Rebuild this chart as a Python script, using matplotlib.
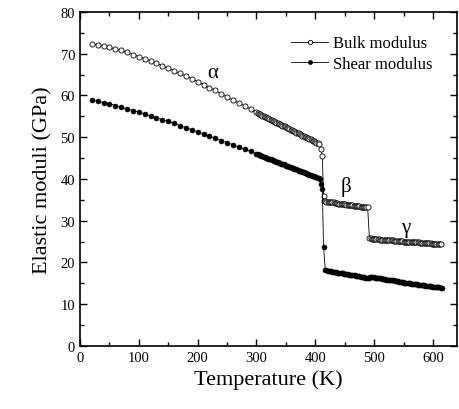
import matplotlib
matplotlib.use("Agg")
import matplotlib.pyplot as plt
from matplotlib.ticker import MultipleLocator

plt.rcParams['font.family'] = ['Liberation Serif', 'DejaVu Serif']

# ---- Bulk modulus (GPa) ----
# alpha phase, coarse scan
T_bulk_a1 = [20, 30, 40, 50, 60, 70, 80, 90, 100, 110, 120, 130, 140, 150, 160,
             170, 180, 190, 200, 210, 220, 230, 240, 250, 260, 270, 280, 290]
bulk_a1 = [72.3, 72.2, 71.9, 71.6, 71.1, 70.8, 70.3, 69.8, 69.3, 68.8, 68.3, 67.7,
           67.1, 66.5, 65.9, 65.3, 64.7, 64.0, 63.3, 62.6, 61.9, 61.2, 60.4, 59.6,
           58.9, 58.2, 57.5, 56.8]
# alpha phase, fine scan
T_bulk_a2 = list(range(300, 408, 2))
bulk_a2 = [56.0, 55.8, 55.6, 55.5, 55.4, 55.2, 55.1, 54.9, 54.8, 54.6, 54.5, 54.3,
           54.2, 54.1, 54.0, 53.8, 53.7, 53.5, 53.4, 53.2, 53.1, 52.9, 52.8, 52.7,
           52.6, 52.4, 52.3, 52.1, 52.0, 51.8, 51.7, 51.5, 51.4, 51.2, 51.1, 51.0,
           50.9, 50.7, 50.6, 50.4, 50.3, 50.1, 50.0, 49.8, 49.7, 49.6, 49.5, 49.3,
           49.2, 49.0, 48.9, 48.7, 48.6, 48.4]
# alpha -> beta transition
T_bulk_t = [409, 412, 414]
bulk_t = [47.2, 45.6, 36.0]
# beta phase
T_bulk_b = list(range(415, 491, 2))
bulk_b = [34.8, 34.7, 34.6, 34.6, 34.5, 34.5, 34.4, 34.4, 34.4, 34.3, 34.2, 34.2,
          34.1, 34.1, 34.0, 34.0, 34.0, 33.9, 33.9, 33.8, 33.8, 33.8, 33.7, 33.7,
          33.7, 33.6, 33.6, 33.6, 33.5, 33.5, 33.5, 33.4, 33.4, 33.4, 33.4, 33.3,
          33.3, 33.3]
# gamma phase
T_bulk_g = list(range(492, 616, 2))
bulk_g = [25.8, 25.8, 25.7, 25.7, 25.7, 25.6, 25.6, 25.6, 25.6, 25.5, 25.5, 25.5,
          25.5, 25.4, 25.4, 25.4, 25.4, 25.3, 25.3, 25.3, 25.3, 25.2, 25.2, 25.2,
          25.2, 25.1, 25.1, 25.1, 25.1, 25.0, 25.0, 25.0, 25.0, 24.9, 24.9, 24.9,
          24.9, 24.8, 24.8, 24.8, 24.8, 24.8, 24.8, 24.7, 24.7, 24.7, 24.7, 24.6,
          24.6, 24.6, 24.6, 24.6, 24.6, 24.5, 24.5, 24.5, 24.5, 24.5, 24.5, 24.4,
          24.4, 24.4]

# ---- Shear modulus (GPa) ----
T_shear_a1 = T_bulk_a1
shear_a1 = [58.9, 58.6, 58.3, 58.0, 57.6, 57.2, 56.8, 56.4, 56.0, 55.6, 55.1, 54.7,
            54.2, 53.8, 53.3, 52.8, 52.3, 51.8, 51.3, 50.8, 50.3, 49.7, 49.2, 48.7,
            48.2, 47.6, 47.1, 46.6]
T_shear_a2 = list(range(300, 408, 2))
shear_a2 = [46.0, 45.9, 45.8, 45.7, 45.6, 45.4, 45.3, 45.2, 45.1, 45.0, 44.9, 44.8,
            44.7, 44.6, 44.5, 44.3, 44.2, 44.1, 44.0, 43.9, 43.8, 43.7, 43.6, 43.5,
            43.4, 43.2, 43.1, 43.0, 42.9, 42.8, 42.7, 42.6, 42.5, 42.4, 42.3, 42.1,
            42.0, 41.9, 41.8, 41.7, 41.6, 41.5, 41.4, 41.3, 41.2, 41.0, 40.9, 40.8,
            40.7, 40.6, 40.5, 40.4, 40.3, 40.2]
T_shear_t = [408, 410, 412, 414]
shear_t = [40.0, 38.8, 37.6, 23.8]
T_shear_b = list(range(417, 491, 2))
shear_b = [18.2, 18.1, 18.0, 18.0, 17.9, 17.9, 17.8, 17.8, 17.7, 17.7, 17.6, 17.6,
           17.5, 17.5, 17.4, 17.4, 17.3, 17.3, 17.2, 17.2, 17.1, 17.1, 17.0, 17.0,
           16.9, 16.9, 16.8, 16.8, 16.7, 16.7, 16.6, 16.6, 16.5, 16.5, 16.4, 16.4,
           16.3]
T_shear_g = list(range(491, 617, 2))
shear_g = [16.4, 16.6, 16.6, 16.5, 16.5, 16.4, 16.4, 16.3, 16.3, 16.2, 16.2, 16.1,
           16.1, 16.0, 16.0, 15.9, 15.9, 15.8, 15.8, 15.8, 15.7, 15.7, 15.6, 15.6,
           15.5, 15.5, 15.4, 15.4, 15.3, 15.3, 15.2, 15.2, 15.1, 15.1, 15.0, 15.0,
           14.9, 14.9, 14.8, 14.8, 14.8, 14.8, 14.7, 14.7, 14.6, 14.6, 14.5, 14.5,
           14.4, 14.4, 14.4, 14.4, 14.3, 14.3, 14.2, 14.2, 14.2, 14.2, 14.1, 14.1,
           14.1, 14.0, 14.0]

T_bulk = T_bulk_a1 + T_bulk_a2 + T_bulk_t + T_bulk_b + T_bulk_g
bulk = bulk_a1 + bulk_a2 + bulk_t + bulk_b + bulk_g
T_shear = T_shear_a1 + T_shear_a2 + T_shear_t + T_shear_b + T_shear_g
shear = shear_a1 + shear_a2 + shear_t + shear_b + shear_g

# Phase labels
phase_names = ['\u03b1', '\u03b2', '\u03b3']
phase_T = [226, 452, 554]
phase_val = [65.6, 38.3, 28.5]

fig = plt.figure(figsize=(4.59, 4.10), dpi=100)
ax = fig.add_axes([0.1743, 0.1537, 0.8214, 0.8146])

ax.plot(T_bulk, bulk, '-o', color='black', lw=0.6, ms=3.7,
        mfc='white', mec='black', mew=0.6, label='Bulk modulus')
ax.plot(T_shear, shear, '-o', color='black', lw=0.6, ms=3.6,
        mfc='black', mec='black', mew=0.4, label='Shear modulus')

for name, t, v in zip(phase_names, phase_T, phase_val):
    ax.text(t, v, name, fontsize=15, ha='center', va='center')

ax.set_xlim(0, 641)
ax.set_ylim(0, 80)
ax.xaxis.set_major_locator(MultipleLocator(100))
ax.xaxis.set_minor_locator(MultipleLocator(50))
ax.yaxis.set_major_locator(MultipleLocator(10))
ax.yaxis.set_minor_locator(MultipleLocator(5))
ax.tick_params(which='both', direction='in', top=True, right=True,
               labelsize=10.5, width=1.0)
ax.tick_params(which='major', length=5)
ax.tick_params(which='minor', length=3)
for s in ax.spines.values():
    s.set_linewidth(1.2)

ax.set_xlabel('Temperature (K)', fontsize=16, labelpad=4)
ax.set_ylabel('Elastic moduli (GPa)', fontsize=16, labelpad=6)

ax.legend(loc='upper right', bbox_to_anchor=(0.975, 0.975), frameon=False,
          fontsize=12, handlelength=2.2, handletextpad=0.3, labelspacing=0.25,
          markerscale=0.85)

fig.savefig('out.png', dpi=100)
